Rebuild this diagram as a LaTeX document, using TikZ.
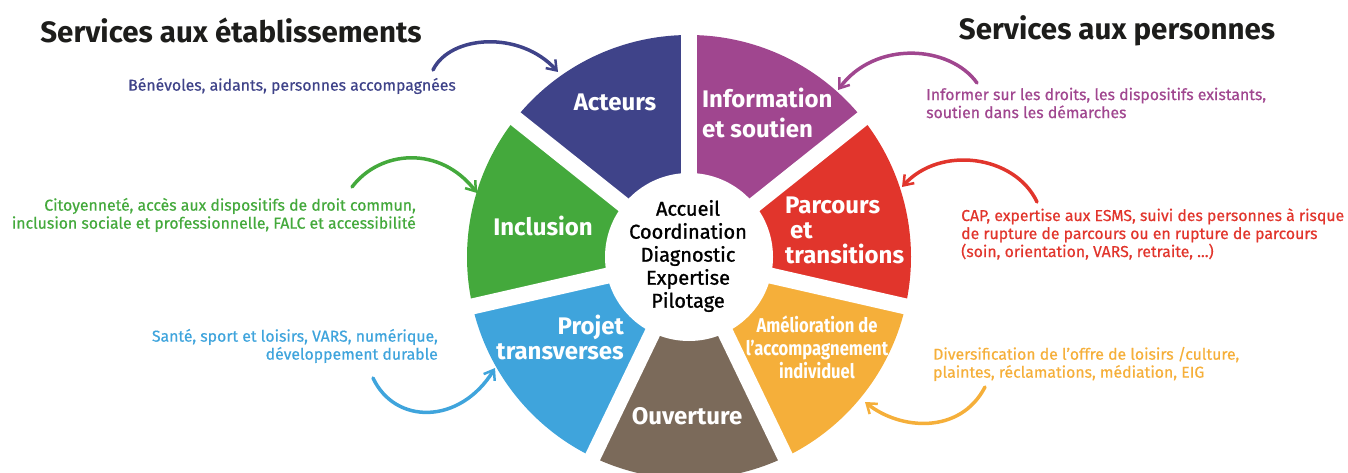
\documentclass[tikz,border=0pt]{standalone}
\usepackage{fontspec}
\setmainfont{Fira Sans}
\usetikzlibrary{arrows.meta}
\definecolor{cblue}{HTML}{3F4389}
\definecolor{cpurple}{HTML}{A0468F}
\definecolor{cred}{HTML}{E1352C}
\definecolor{corange}{HTML}{F5AF3A}
\definecolor{cbrown}{HTML}{7B6A5A}
\definecolor{clight}{HTML}{3FA4DC}
\definecolor{cgreen}{HTML}{44A93C}
\definecolor{ctitle}{HTML}{1D1D1B}
\tikzset{
  title/.style={text=ctitle, font=\fontsize{29.5}{34}\selectfont\bfseries, inner sep=0pt},
  desc/.style={font=\fontsize{15.8}{18}\selectfont\addfontfeature{FakeBold=0.6}, inner sep=0pt},
  seclabel/.style={text=white, font=\fontsize{24}{25}\selectfont\bfseries, inner sep=0pt},
  centertext/.style={text=black, font=\fontsize{20}{23}\selectfont\addfontfeature{FakeBold=1.2}, inner sep=0pt, align=center},
  sector/.style={shift={(689,257)}},
  gapline/.style={white, line width=16pt},
  brush/.style={line width=3.5pt, line cap=round, -{Straight Barb[length=9pt,width=13pt,line width=2.5pt]}}
}
\begin{document}
\begin{tikzpicture}[x=1pt,y=-1pt]
\useasboundingbox (0,0) rectangle (1348,473);
\clip (0,0) rectangle (1348,473);
% wheel sectors (y axis downwards: angles measured clockwise)
\fill[cpurple, sector] (0,0) -- (-90:222) arc[start angle=-90, end angle=-38.571, radius=222] -- cycle;
\fill[cred, sector] (0,0) -- (-38.571:222) arc[start angle=-38.571, end angle=12.857, radius=222] -- cycle;
\fill[corange, sector] (0,0) -- (12.857:222) arc[start angle=12.857, end angle=64.286, radius=222] -- cycle;
\fill[cbrown, sector] (0,0) -- (64.286:222) arc[start angle=64.286, end angle=115.714, radius=222] -- cycle;
\fill[clight, sector] (0,0) -- (115.714:222) arc[start angle=115.714, end angle=167.143, radius=222] -- cycle;
\fill[cgreen, sector] (0,0) -- (167.143:222) arc[start angle=167.143, end angle=218.571, radius=222] -- cycle;
\fill[cblue, sector] (0,0) -- (218.571:222) arc[start angle=218.571, end angle=270, radius=222] -- cycle;
\foreach \a in {-90,-38.571,12.857,64.286,115.714,167.143,218.571}
  \draw[gapline, sector] (0,0) -- (\a:240);
\fill[white] (689,257) circle[radius=84];

% centre
\node[centertext] (centre) at (688,256) {Accueil\\Coordination\\Diagnostic\\Expertise\\Pilotage};

% sector labels
\node[seclabel] (acteurs) at (615,102) {Acteurs};
\node[seclabel, anchor=west, align=left, font=\fontsize{24}{30}\selectfont\bfseries] (info) at (702,113) {Information\\et soutien};
\node[seclabel, anchor=west, align=left] (parcours) at (785,230) {Parcours\\\hspace*{5pt}et\\transitions};
\node[seclabel] (inclusion) at (543,226) {Inclusion};
\node[seclabel, anchor=east, align=right] (projet) at (624,337) {Projet\\transverses};
\node[seclabel] (ouverture) at (687,416) {Ouverture};
\node[seclabel, align=center, font=\fontsize{20}{23}\selectfont\bfseries, xscale=0.83] (amelioration) at (817,347) {Amélioration de\\l'accompagnement\\individuel};

% titles
\node[title] (tleft) at (231,30) {Services aux établissements};
\node[title] (tright) at (1117,31) {Services aux personnes};

% descriptions
\node[desc, text=cblue, anchor=east] (dacteurs) at (456,86) {Bénévoles, aidants, personnes accompagnées};
\node[desc, text=cgreen, anchor=east, align=right] (dinclusion) at (416,215) {Citoyenneté, accès aux dispositifs de droit commun,\\inclusion sociale et professionnelle, FALC et accessibilité};
\node[desc, text=clight, anchor=east, align=right] (dprojet) at (438,346) {Santé, sport et loisirs, VARS, numérique,\\développement durable};
\node[desc, text=cpurple, anchor=west, align=left] (dinfo) at (926,103) {Informer sur les droits, les dispositifs existants,\\soutien dans les démarches};
\node[desc, text=cred, anchor=west, align=left] (dparcours) at (961,234) {CAP, expertise aux ESMS, suivi des personnes à risque\\de rupture de parcours ou en rupture de parcours\\(soin, orientation, VARS, retraite, ...)};
\node[desc, text=corange, anchor=west, align=left] (damelioration) at (933,364) {Diversification de l'offre de loisirs /culture,\\plaintes, réclamations, médiation, EIG};

% arrow end points
\coordinate (a1s) at (433,70);   \coordinate (a1e) at (558,72);
\coordinate (a2s) at (352,187);  \coordinate (a2e) at (477,193);
\coordinate (a3s) at (373,378);  \coordinate (a3e) at (495,368);
\coordinate (a4s) at (977,83);   \coordinate (a4e) at (838,90);
\coordinate (a5s) at (1037,202); \coordinate (a5e) at (902,187);
\coordinate (a6s) at (985,387);  \coordinate (a6e) at (865,402);

\draw[brush, cblue] (a1s) .. controls (450,35) and (520,30) .. (a1e);
\draw[brush, cgreen] (a2s) .. controls (380,150) and (440,145) .. (a2e);
\draw[brush, clight] (a3s) .. controls (395,425) and (460,425) .. (a3e);
\draw[brush, cpurple] (a4s) .. controls (950,45) and (875,40) .. (a4e);
\draw[brush, cred] (a5s) .. controls (1015,155) and (940,145) .. (a5e);
\draw[brush, corange] (a6s) .. controls (960,435) and (900,430) .. (a6e);
\end{tikzpicture}
\end{document}
